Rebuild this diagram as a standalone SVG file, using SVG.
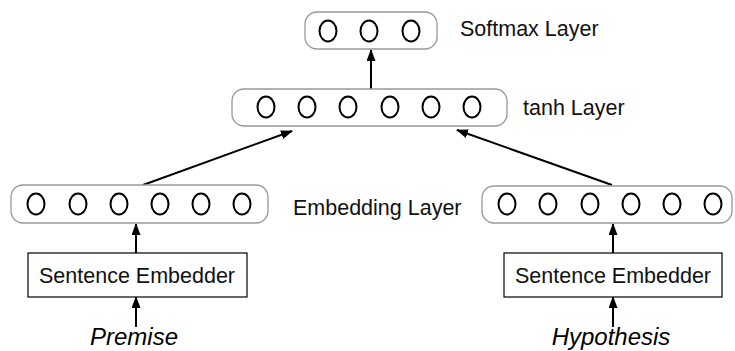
<svg xmlns="http://www.w3.org/2000/svg" width="735" height="351" viewBox="0 0 735 351">
<defs>
<marker id="ah" markerUnits="userSpaceOnUse" markerWidth="12" markerHeight="10" refX="11" refY="4.5" orient="auto">
<path d="M0,0 L12,4.5 L0,9 z" fill="#000"/>
</marker>
<style>
.layer{fill:#fff;stroke:#999;stroke-width:1.3}
.unit{fill:none;stroke:#000;stroke-width:2}
.lbl{font-family:"Liberation Sans",Arial,sans-serif;font-size:21.5px;fill:#111}
.box{fill:#fff;stroke:#000;stroke-width:1.2}
.inp{font-family:"Liberation Sans",Arial,sans-serif;font-size:24px;font-style:italic;fill:#000}
.conn{stroke:#000;stroke-width:2;fill:none;marker-end:url(#ah)}
</style>
</defs>
<rect width="735" height="351" fill="#fff"/>
<g id="connectors">
<line class="conn" x1="371" y1="89" x2="371" y2="50"/>
<line class="conn" x1="143" y1="185" x2="292" y2="131"/>
<line class="conn" x1="612" y1="185" x2="457" y2="130"/>
<line class="conn" x1="136" y1="253" x2="136" y2="224"/>
<line class="conn" x1="136" y1="327" x2="136" y2="297"/>
<line class="conn" x1="613" y1="253" x2="613" y2="224"/>
<line class="conn" x1="613" y1="327" x2="613" y2="297"/>
</g>
<g id="softmax">
<rect class="layer" x="305" y="12" width="132" height="37" rx="12"/>
<ellipse class="unit" cx="328" cy="31" rx="8.5" ry="10.5"/>
<ellipse class="unit" cx="369" cy="31" rx="8.5" ry="10.5"/>
<ellipse class="unit" cx="411" cy="31" rx="8.5" ry="10.5"/>
<text class="lbl" x="460" y="36">Softmax Layer</text>
</g>
<g id="tanh">
<rect class="layer" x="232" y="89" width="275" height="37" rx="12"/>
<ellipse class="unit" cx="266" cy="107" rx="8.5" ry="10.5"/>
<ellipse class="unit" cx="307" cy="107" rx="8.5" ry="10.5"/>
<ellipse class="unit" cx="348" cy="107" rx="8.5" ry="10.5"/>
<ellipse class="unit" cx="390" cy="107" rx="8.5" ry="10.5"/>
<ellipse class="unit" cx="431" cy="107" rx="8.5" ry="10.5"/>
<ellipse class="unit" cx="472" cy="107" rx="8.5" ry="10.5"/>
<text class="lbl" x="523" y="115">tanh Layer</text>
</g>
<g id="embedding-left">
<rect class="layer" x="11" y="185" width="257" height="38" rx="12"/>
<ellipse class="unit" cx="36" cy="204" rx="8.5" ry="10.5"/>
<ellipse class="unit" cx="78" cy="204" rx="8.5" ry="10.5"/>
<ellipse class="unit" cx="119" cy="204" rx="8.5" ry="10.5"/>
<ellipse class="unit" cx="160" cy="204" rx="8.5" ry="10.5"/>
<ellipse class="unit" cx="201" cy="204" rx="8.5" ry="10.5"/>
<ellipse class="unit" cx="242" cy="204" rx="8.5" ry="10.5"/>
</g>
<g id="embedding-label">
<text class="lbl" x="293" y="215">Embedding Layer</text>
</g>
<g id="embedding-right">
<rect class="layer" x="482" y="186" width="250" height="37" rx="12"/>
<ellipse class="unit" cx="507" cy="204" rx="8.5" ry="10.5"/>
<ellipse class="unit" cx="548" cy="204" rx="8.5" ry="10.5"/>
<ellipse class="unit" cx="590" cy="204" rx="8.5" ry="10.5"/>
<ellipse class="unit" cx="631" cy="204" rx="8.5" ry="10.5"/>
<ellipse class="unit" cx="672" cy="204" rx="8.5" ry="10.5"/>
<ellipse class="unit" cx="713" cy="204" rx="8.5" ry="10.5"/>
</g>
<g id="embedder-left">
<rect class="box" x="28" y="253" width="219" height="44"/>
<text class="lbl" x="137" y="283" text-anchor="middle">Sentence Embedder</text>
</g>
<g id="embedder-right">
<rect class="box" x="504" y="253" width="218" height="44"/>
<text class="lbl" x="613" y="283" text-anchor="middle">Sentence Embedder</text>
</g>
<g id="premise">
<text class="inp" x="134" y="345" text-anchor="middle">Premise</text>
</g>
<g id="hypothesis">
<text class="inp" x="611" y="345" text-anchor="middle">Hypothesis</text>
</g>
</svg>
